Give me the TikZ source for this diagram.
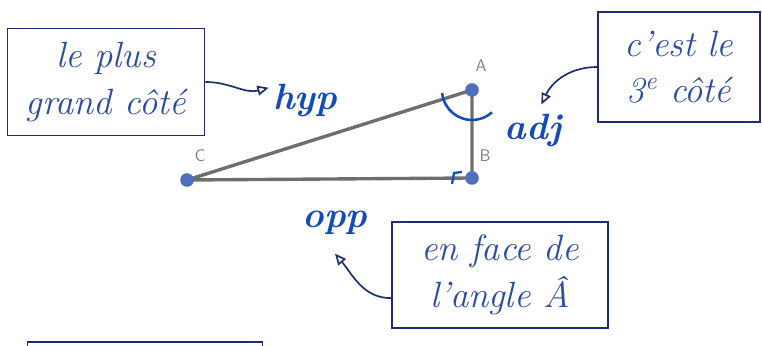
\documentclass[tikz,border=0pt]{standalone}
\usetikzlibrary{arrows.meta}
\definecolor{ink}{RGB}{45,75,160}
\definecolor{inkdark}{RGB}{30,45,110}
\definecolor{handblue}{RGB}{20,75,185}
\definecolor{sidegray}{RGB}{110,110,110}
\definecolor{ptblue}{RGB}{80,110,190}
\definecolor{lblgray}{RGB}{125,125,125}

\begin{document}
\begin{tikzpicture}[x=0.025cm,y=0.025cm,>={Triangle[open,length=8pt,width=7pt]},
    notebox/.style={draw=inkdark,line width=1.2pt,text=ink,align=center,inner sep=0pt,
      font=\fontsize{26}{33}\selectfont\itshape},
    handlbl/.style={text=handblue,inner sep=3pt,font=\fontsize{26}{30}\selectfont\bfseries\itshape},
    vertex/.style={circle,fill=ptblue,inner sep=0pt,minimum size=0.34cm},
    vlabel/.style={text=lblgray,font=\sffamily\fontsize{12}{14}\selectfont},
    notearrow/.style={->,draw=inkdark,line width=1.2pt}]
    \useasboundingbox (0,0) rectangle (762,-346);
    \clip (0,0) rectangle (762,-346);
    % Triangle
    \coordinate (A) at (472,-90);
    \coordinate (B) at (472,-178);
    \coordinate (C) at (187,-180);
    \draw[sidegray,line width=2.4pt] (C) -- (A) -- (B) -- (C);
    \foreach \v/\dx/\dy in {A/9/24, B/13/22, C/13/24} {
      \node[vertex] (pt\v) at (\v) {};
      \node[vlabel] (lbl\v) at ([shift={(\dx,\dy)}]\v) {\v};
    }
    % Angle mark at A and right angle at B
    \draw[handblue,line width=1.8pt] ([shift={(186:30)}]A) arc[start angle=186,end angle=312,radius=30];
    \draw[handblue,line width=1.6pt] ([shift={(-20,-6)}]B) -- ([shift={(-18,5)}]B) -- ([shift={(-10,6)}]B);
    % Side names
    \node[handlbl,anchor=base] (hyp) at (305,-110) {hyp};
    \node[handlbl,anchor=base] (adj) at (533,-140) {adj};
    \node[handlbl,anchor=base] (opp) at (335,-228) {opp};
    % Notes
    \node[notebox,minimum width=4.93cm,minimum height=2.68cm] (boxbig) at (106,-82) {le plus\\grand côté};
    \node[notebox,minimum width=4.05cm,minimum height=2.75cm] (boxthird) at (679,-67) {c'est le\\3\textsuperscript{e} côté};
    \node[notebox,minimum width=5.4cm,minimum height=2.65cm] (boxopp) at (500,-275) {en face de\\l'angle Â};
    \node[notebox,minimum width=5.88cm,minimum height=3cm] (boxnext) at (145,-402) {};
    % Arrows from the notes
    \draw[notearrow] (boxbig.east) to[out=0,in=195] (hyp.160);
    \draw[notearrow] (boxthird.west) to[out=180,in=65] ([shift={(6pt,4pt)}]adj.north);
    \draw[notearrow] (boxopp.192) to[out=180,in=-50] ([yshift=-10pt]opp.south);
\end{tikzpicture}
\end{document}
